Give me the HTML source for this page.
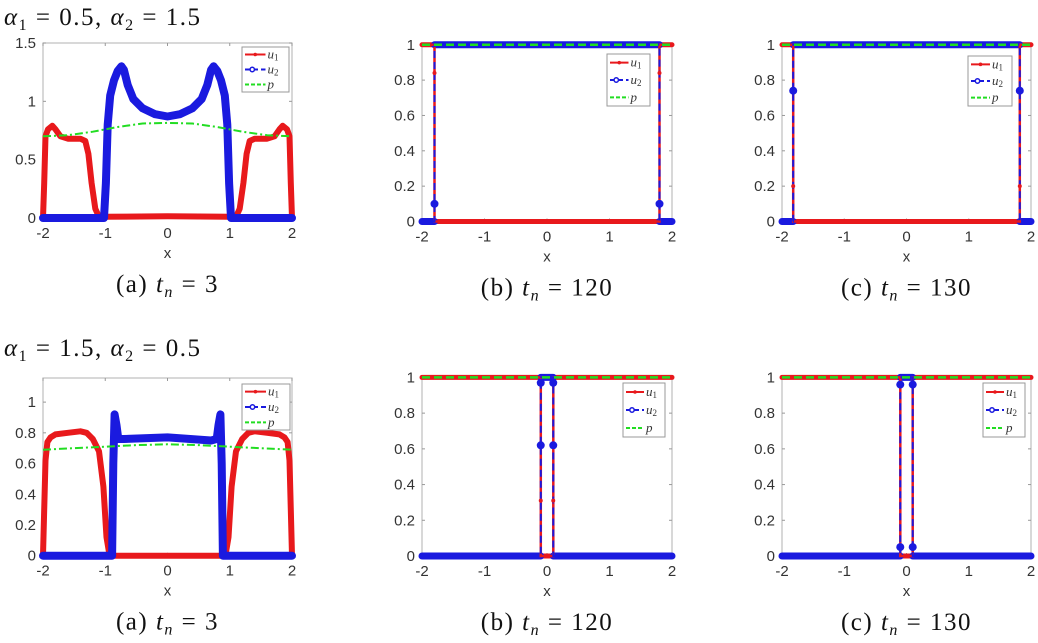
<!DOCTYPE html>
<html><head><meta charset="utf-8">
<style>
html,body{margin:0;padding:0;background:#fff;}
svg{display:block;}
.tick{font-family:"Liberation Sans",sans-serif;font-size:15px;fill:#333;}
.cap{font-family:"Liberation Serif",serif;font-size:25px;fill:#111;letter-spacing:1.5px;}
</style></head>
<body>
<svg id="fig" width="1038" height="643" viewBox="0 0 1038 643" xmlns="http://www.w3.org/2000/svg">
<text class="cap" x="4" y="25"><tspan font-style="italic">α</tspan><tspan font-size="16" dy="5">1</tspan><tspan dy="-5"> = 0.5, </tspan><tspan font-style="italic">α</tspan><tspan font-size="16" dy="5">2</tspan><tspan dy="-5"> = 1.5</tspan></text>
<text class="cap" x="4" y="356"><tspan font-style="italic">α</tspan><tspan font-size="16" dy="5">1</tspan><tspan dy="-5"> = 1.5, </tspan><tspan font-style="italic">α</tspan><tspan font-size="16" dy="5">2</tspan><tspan dy="-5"> = 0.5</tspan></text>
</svg>
<script>
// ---- data ----
const xTicks = [-2,-1,0,1,2];
const yTicksA = [0,0.5,1,1.5];
const yTicksB = [0,0.2,0.4,0.6,0.8,1];
const captions = [["(a) ","3"],["(b) ","120"],["(c) ","130"],["(a) ","3"],["(b) ","120"],["(c) ","130"]];

// Panel 1 (top-left)
const p1_u1_x = [-2,-1.98,-1.96,-1.92,-1.85,-1.8,-1.72,-1.6,-1.4,-1.32,-1.27,-1.22,-1.16,-1.1,-1.0,0,1.0,1.1,1.16,1.22,1.27,1.32,1.4,1.6,1.72,1.8,1.85,1.92,1.96,1.98,2];
const p1_u1_y = [0,0.3,0.7,0.76,0.79,0.76,0.7,0.68,0.68,0.66,0.55,0.3,0.08,0.01,0.01,0.015,0.01,0.01,0.08,0.3,0.55,0.66,0.68,0.68,0.7,0.76,0.79,0.76,0.7,0.3,0];
const p1_u2_x = [-2,-1.02,-0.99,-0.96,-0.92,-0.86,-0.8,-0.74,-0.7,-0.64,-0.55,-0.4,-0.2,0,0.2,0.4,0.55,0.64,0.7,0.74,0.8,0.86,0.92,0.96,0.99,1.02,2];
const p1_u2_y = [0,0,0.3,0.8,1.05,1.18,1.26,1.3,1.27,1.14,1.02,0.94,0.89,0.87,0.89,0.94,1.02,1.14,1.27,1.3,1.26,1.18,1.05,0.8,0.3,0,0];
const p1_p_x = [-2,-1.6,-1.2,-0.8,-0.4,0,0.4,0.8,1.2,1.6,2];
const p1_p_y = [0.7,0.71,0.74,0.78,0.81,0.815,0.81,0.78,0.74,0.71,0.7];

// Panel 2 (top-middle)
const p2_u1_x = [-2,-1.8,-1.8,-1.8,1.8,1.8,1.8,2];
const p2_u1_y = [1,1,0.84,0,0,0.84,1,1];
const p2_u2_x = [-2,-1.8,-1.8,-1.8,1.8,1.8,1.8,2];
const p2_u2_y = [0,0,0.1,1,1,0.1,0,0];
const p2_p_x = [-2,2];
const p2_p_y = [1,1];

// Panel 3 (top-right)
const p3_u1_x = [-2,-1.82,-1.82,-1.82,1.82,1.82,1.82,2];
const p3_u1_y = [1,1,0.2,0,0,0.2,1,1];
const p3_u2_x = [-2,-1.82,-1.82,-1.82,1.82,1.82,1.82,2];
const p3_u2_y = [0,0,0.74,1,1,0.74,0,0];
const p3_p_x = [-2,2];
const p3_p_y = [1,1];

// Panel 4 (bottom-left)
const p4_u1_x = [-2,-1.98,-1.96,-1.93,-1.88,-1.8,-1.6,-1.4,-1.3,-1.2,-1.1,-1.03,-0.98,-0.93,0,0.93,0.98,1.03,1.1,1.2,1.3,1.4,1.6,1.8,1.88,1.93,1.96,1.98,2];
const p4_u1_y = [0,0.3,0.62,0.74,0.77,0.79,0.8,0.81,0.8,0.76,0.68,0.45,0.12,0,0,0,0.12,0.45,0.68,0.76,0.8,0.81,0.8,0.79,0.77,0.74,0.62,0.3,0];
const p4_u2_x = [-2,-0.89,-0.87,-0.85,-0.82,-0.79,-0.7,0,0.7,0.79,0.82,0.85,0.87,0.89,2];
const p4_u2_y = [0,0,0.6,0.92,0.85,0.76,0.76,0.77,0.75,0.76,0.85,0.92,0.6,0,0];
const p4_p_x = [-2,-1.5,-1,-0.5,0,0.5,1,1.5,2];
const p4_p_y = [0.69,0.7,0.71,0.72,0.725,0.72,0.71,0.7,0.69];

// Panel 5 (bottom-middle)
const p5_u1_x = [-2,-0.1,-0.1,-0.1,0.1,0.1,0.1,2];
const p5_u1_y = [1,1,0.31,0,0,0.31,1,1];
const p5_u2_x = [-2,-0.1,-0.1,-0.1,-0.1,0.1,0.1,0.1,0.1,2];
const p5_u2_y = [0,0,0.62,0.97,1,1,0.97,0.62,0,0];
const p5_p_x = [-2,2];
const p5_p_y = [1,1];

// Panel 6 (bottom-right)
const p6_u1_x = [-2,-0.1,-0.1,0.1,0.1,2];
const p6_u1_y = [1,1,0,0,1,1];
const p6_u2_x = [-2,-0.1,-0.1,-0.1,-0.1,0.1,0.1,0.1,0.1,2];
const p6_u2_y = [0,0,0.05,0.96,1,1,0.96,0.05,0,0];
const p6_p_x = [-2,2];
const p6_p_y = [1,1];
</script>
<script>
const NS = "http://www.w3.org/2000/svg";
const svg = document.getElementById('fig');
function mk(tag, attrs, parent){
  const e = document.createElementNS(NS, tag);
  for (const k in attrs) e.setAttribute(k, attrs[k]);
  (parent||svg).appendChild(e);
  return e;
}
const panels = [
  {id:'a1', L:43, R:292, T:43, B:218, ymax:1.5, yt:yTicksA, smooth:true, u1:[p1_u1_x,p1_u1_y], u2:[p1_u2_x,p1_u2_y], p:[p1_p_x,p1_p_y], leg:[242,47,47,45]},
  {id:'b1', L:422, R:672, T:43, B:221.5, ymax:1.01, yt:yTicksB, smooth:false, u1:[p2_u1_x,p2_u1_y], u2:[p2_u2_x,p2_u2_y], p:[p2_p_x,p2_p_y], leg:[607,54,43,52], mk:[[-1.8,0.1,'b'],[1.8,0.1,'b'],[-1.8,0.84,'r'],[1.8,0.84,'r']]},
  {id:'c1', L:782, R:1031, T:43, B:221.5, ymax:1.01, yt:yTicksB, smooth:false, u1:[p3_u1_x,p3_u1_y], u2:[p3_u2_x,p3_u2_y], p:[p3_p_x,p3_p_y], leg:[968,56,44,50], mk:[[-1.82,0.74,'b'],[1.82,0.74,'b'],[-1.82,0.2,'r'],[1.82,0.2,'r']]},
  {id:'a2', L:43, R:292, T:378, B:555.7, ymax:1.157, yt:yTicksB, smooth:true, u1:[p4_u1_x,p4_u1_y], u2:[p4_u2_x,p4_u2_y], p:[p4_p_x,p4_p_y], leg:[242,384,48,46]},
  {id:'b2', L:422, R:672, T:376, B:556, ymax:1.008, yt:yTicksB, smooth:false, u1:[p5_u1_x,p5_u1_y], u2:[p5_u2_x,p5_u2_y], p:[p5_p_x,p5_p_y], leg:[623,383,42,54], mk:[[-0.1,0.62,'b'],[0.1,0.62,'b'],[-0.1,0.97,'b'],[0.1,0.97,'b'],[-0.1,0.31,'r'],[0.1,0.31,'r']]},
  {id:'c2', L:782, R:1031, T:376, B:556, ymax:1.008, yt:yTicksB, smooth:false, u1:[p6_u1_x,p6_u1_y], u2:[p6_u2_x,p6_u2_y], p:[p6_p_x,p6_p_y], leg:[983,383,42,54], mk:[[-0.1,0.05,'b'],[0.1,0.05,'b'],[-0.1,0.96,'b'],[0.1,0.96,'b']]}
];
const RED='#e8191c', BLUE='#1a1adf', GREEN='#22dd22';
panels.forEach((P, i) => {
  const g = mk('g', {});
  
  
  const xs = v => P.L + (v + 2) / 4 * (P.R - P.L);
  const ys = v => P.B - v / P.ymax * (P.B - P.T);
  const box = mk('rect', {x:P.L, y:P.T, width:P.R-P.L, height:P.B-P.T, fill:'#fff', stroke:'#bdbdbd', 'stroke-width':1.2}, g);
  
  
  xTicks.forEach(t => {
    const X = xs(t);
    mk('line', {x1:X, x2:X, y1:P.B, y2:P.B-3, stroke:'#999'}, g);
    mk('line', {x1:X, x2:X, y1:P.T, y2:P.T+3, stroke:'#999'}, g);
    const tx = mk('text', {x:X, y:P.B+20, 'text-anchor':'middle', class:'tick'}, g);
    tx.textContent = String(t);
    
    
  });
  P.yt.forEach(t => {
    const Y = ys(t);
    mk('line', {x1:P.L, x2:P.L+3, y1:Y, y2:Y, stroke:'#999'}, g);
    mk('line', {x1:P.R, x2:P.R-3, y1:Y, y2:Y, stroke:'#999'}, g);
    const ty = mk('text', {x:P.L-7, y:Y+5, 'text-anchor':'end', class:'tick'}, g);
    ty.textContent = String(t);
    
    
  });
  const xl = mk('text', {x:(P.L+P.R)/2, y:P.B+40, 'text-anchor':'middle', class:'tick', 'font-size':'17px'}, g);
  xl.textContent = 'x';
  
  
  const pts = s => s[0].map((x, k) => xs(x).toFixed(1) + ',' + ys(s[1][k]).toFixed(1)).join(' ');
  function thickH(s, col, w){
    for (let k = 0; k < s[0].length - 1; k++) {
      if (s[1][k] === s[1][k+1]) {
        const seg = mk('line', {x1:xs(s[0][k]), x2:xs(s[0][k+1]), y1:ys(s[1][k]), y2:ys(s[1][k]), stroke:col, 'stroke-width':w, 'stroke-linecap':'round'}, g);
        
        
      }
    }
  }
  if (P.smooth) {
    const l1 = mk('polyline', {points:pts(P.u1), fill:'none', stroke:RED, 'stroke-width':6, 'stroke-linejoin':'round', 'stroke-linecap':'round'}, g);
    
    
    const l2 = mk('polyline', {points:pts(P.u2), fill:'none', stroke:BLUE, 'stroke-width':8, 'stroke-linejoin':'round', 'stroke-linecap':'round'}, g);
    
    
    const l3 = mk('polyline', {points:pts(P.p), fill:'none', stroke:GREEN, 'stroke-width':2, 'stroke-dasharray':'8 3 2 3'}, g);
    
    
  } else {
    thickH(P.u1, RED, 5);
    thickH(P.u2, BLUE, 7);
    const l1 = mk('polyline', {points:pts(P.u1), fill:'none', stroke:RED, 'stroke-width':2.5}, g);
    
    
    const l2 = mk('polyline', {points:pts(P.u2), fill:'none', stroke:BLUE, 'stroke-width':2, 'stroke-dasharray':'7 4'}, g);
    
    
    const l3 = mk('polyline', {points:pts(P.p), fill:'none', stroke:GREEN, 'stroke-width':2.5, 'stroke-dasharray':'8 4'}, g);
    
    
    (P.mk||[]).forEach(m => {
      const c = mk('circle', {cx:xs(m[0]), cy:ys(m[1]), r:m[2]==='b'?4:2, fill:m[2]==='b'?BLUE:RED}, g);
      
      
    });
  }
  const [lx, ly, lw, lh] = P.leg;
  const lg = mk('g', {}, g);
  
  
  mk('rect', {x:lx, y:ly, width:lw, height:lh, fill:'#fff', stroke:'#999', 'stroke-width':1}, lg);
  const rows = [['u','1',RED],['u','2',BLUE],['p','',GREEN]];
  rows.forEach((r, k) => {
    const yy = ly + lh * (k + 0.5) / 3;
    const x0 = lx + 3, x1 = lx + lw * 0.5;
    const ent = mk('g', {}, lg);
    
    
    mk('line', {x1:x0, x2:x1, y1:yy, y2:yy, stroke:r[2], 'stroke-width':2, 'stroke-dasharray':k===0?'none':(k===1?'5 3':'4 2')}, ent);
    if (k === 0) mk('circle', {cx:(x0+x1)/2, cy:yy, r:1.8, fill:r[2]}, ent);
    if (k === 1) mk('circle', {cx:(x0+x1)/2-3, cy:yy, r:2.2, fill:'#fff', stroke:r[2], 'stroke-width':1.5}, ent);
    const t = mk('text', {x:x1+2, y:yy+4, 'font-family':'"Liberation Serif",serif', 'font-size':13, 'font-style':'italic', fill:'#333'}, ent);
    t.textContent = r[0];
    if (r[1]) { const s = mk('tspan', {'font-size':9, dy:2, 'font-style':'normal'}, t); s.textContent = r[1]; }
  });
  const cap = mk('text', {x:(P.L+P.R)/2, y:P.B+74, 'text-anchor':'middle', class:'cap'}, g);
  
  
  const c0 = mk('tspan', {}, cap); c0.textContent = captions[i][0];
  const c1 = mk('tspan', {'font-style':'italic'}, cap); c1.textContent = 't';
  const c2 = mk('tspan', {'font-size':16, 'font-style':'italic', dy:5}, cap); c2.textContent = 'n';
  const c3 = mk('tspan', {dy:-5}, cap); c3.textContent = ' = ' + captions[i][1];
});
</script>
</body></html>
